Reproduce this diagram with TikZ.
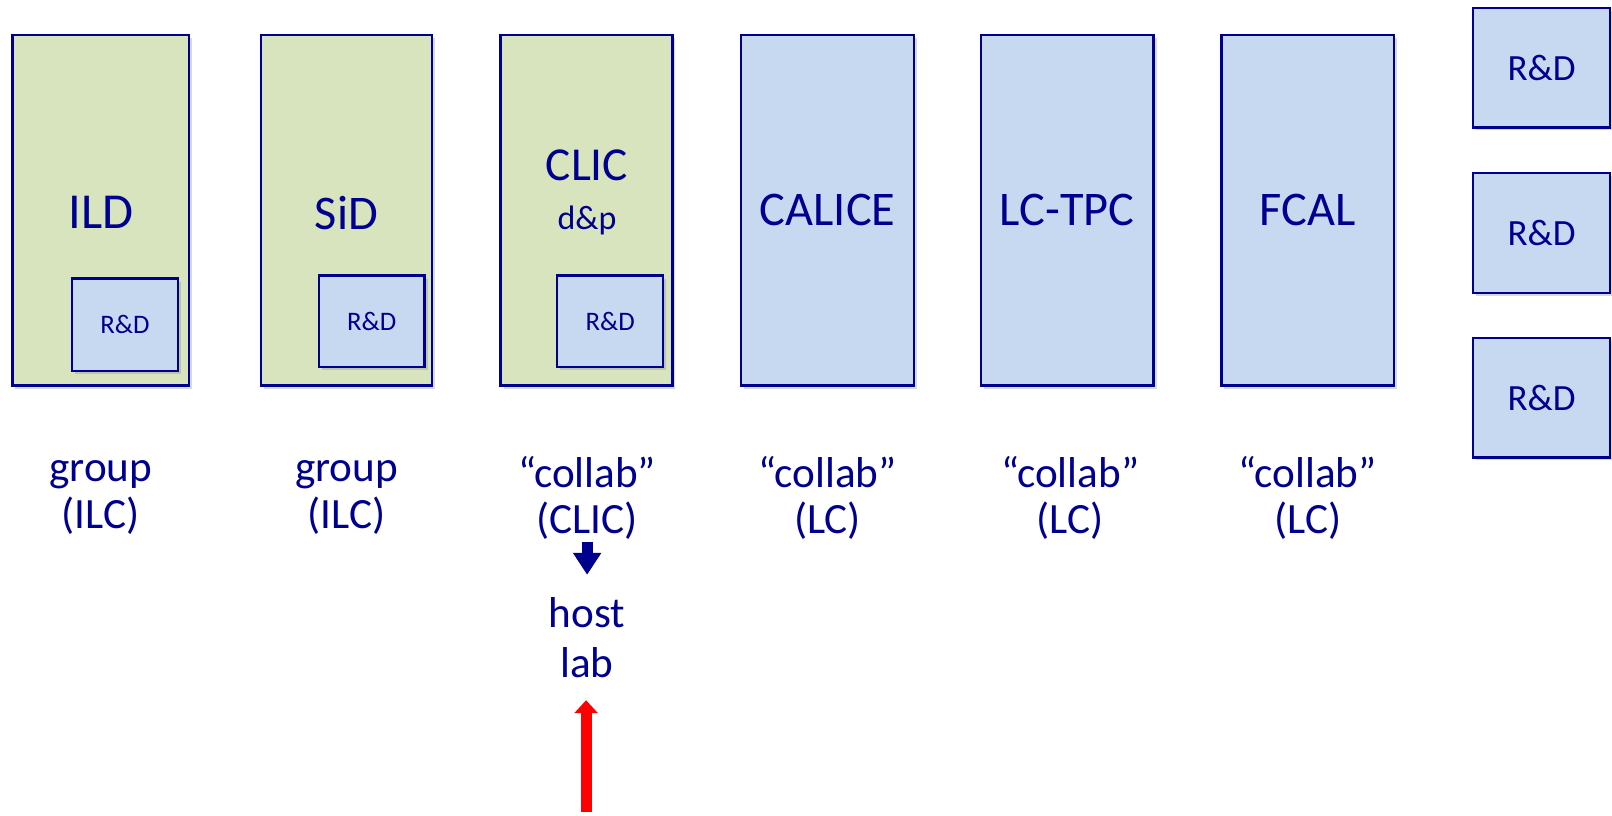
\documentclass[tikz,border=0pt]{standalone}
\usepackage{fontspec}
\setmainfont{Carlito}
\usetikzlibrary{arrows.meta,shadows}
\definecolor{ink}{HTML}{000090}
\definecolor{greenfill}{HTML}{D7E4BD}
\definecolor{bluefill}{HTML}{C6D9F1}
\tikzset{
  box/.style={draw=ink, line width=1.2pt, inner sep=0pt, text=ink, align=center,
    drop shadow={shadow xshift=1.5pt, shadow yshift=-1.5pt, opacity=0.3}},
  gbox/.style={box, fill=greenfill},
  bbox/.style={box, fill=bluefill},
  lbl/.style={text=ink, align=center, font=\fontsize{21}{22.5}\selectfont},
  big/.style={font=\fontsize{23.5}{28}\selectfont},
}
\begin{document}
\begin{tikzpicture}[x=0.5pt,y=-0.5pt,scale=1.028,transform shape]
% main columns
\node[gbox, minimum width=86pt, minimum height=170.5pt] (ild) at (98,204.5) {};
\node[gbox, minimum width=83pt, minimum height=170.5pt] (sid) at (337,204.5) {};
\node[gbox, minimum width=83.5pt, minimum height=170.5pt] (clic) at (570.5,204.5) {};
\node[bbox, big, minimum width=84pt, minimum height=170.5pt] (calice) at (805,204.5) {CALICE};
\node[bbox, big, minimum width=84pt, minimum height=170.5pt] (lctpc) at (1038,204.5) {LC-TPC};
\node[bbox, big, minimum width=84pt, minimum height=170.5pt] (fcal) at (1272,204.5) {FCAL};
% titles in green boxes
\node[text=ink, font=\fontsize{24.5}{28}\selectfont] (ildt) at (98,207) {ILD};
\node[text=ink, big] (sidt) at (337,207) {SiD};
\node[text=ink, font=\fontsize{23}{28}\selectfont] (clict) at (571,161) {CLIC};
\node[text=ink, font=\fontsize{16.5}{20}\selectfont] (clicdp) at (571,214) {d\&p};
% inner R&D boxes
\node[bbox, font=\fontsize{13}{16}\selectfont, minimum width=51.5pt, minimum height=45pt] (ildrd) at (121.5,316) {R\&D};
\node[bbox, font=\fontsize{13}{16}\selectfont, minimum width=51.5pt, minimum height=44.5pt] (sidrd) at (361.5,312.5) {R\&D};
\node[bbox, font=\fontsize{13}{16}\selectfont, minimum width=51.5pt, minimum height=44.5pt] (clicrd) at (593.5,312.5) {R\&D};
% right R&D boxes
\node[bbox, font=\fontsize{18}{20}\selectfont, minimum width=66.5pt, minimum height=58pt] (rd1) at (1499.5,66) {R\&D};
\node[bbox, font=\fontsize{18}{20}\selectfont, minimum width=66.5pt, minimum height=58.5pt] (rd2) at (1499.5,226.5) {R\&D};
\node[bbox, font=\fontsize{18}{20}\selectfont, minimum width=66.5pt, minimum height=58pt] (rd3) at (1499.5,387) {R\&D};
% labels
\node[lbl] (l1) at (98,484) {group\\(ILC)};
\node[lbl] (l2) at (337,484) {group\\(ILC)};
\node[lbl] (l3) at (571,484) {“collab”\\(CLIC)};
\node[lbl] (l4) at (805,484) {“collab”\\(LC)};
\node[lbl] (l5) at (1041,484) {“collab”\\(LC)};
\node[lbl] (l6) at (1272,484) {“collab”\\(LC)};
\node[lbl, font=\fontsize{21}{24.5}\selectfont] (host) at (571,620.5) {host\\lab};
% small dark arrow
\coordinate (da1) at (571,527);
\coordinate (da2) at (571,559);
\draw[ink, line width=5.5pt, -{Triangle[width=13.5pt,length=11pt]}] (da1) -- (da2);
% red arrow
\coordinate (ra) at (570,790);
\coordinate (rb) at (570,681);
\draw[red, line width=5.5pt, -{Triangle[width=11.5pt,length=6.5pt]}] (ra) -- (rb);
\pgfresetboundingbox
\useasboundingbox (0,0) rectangle (1568,793);
\end{tikzpicture}
\end{document}
